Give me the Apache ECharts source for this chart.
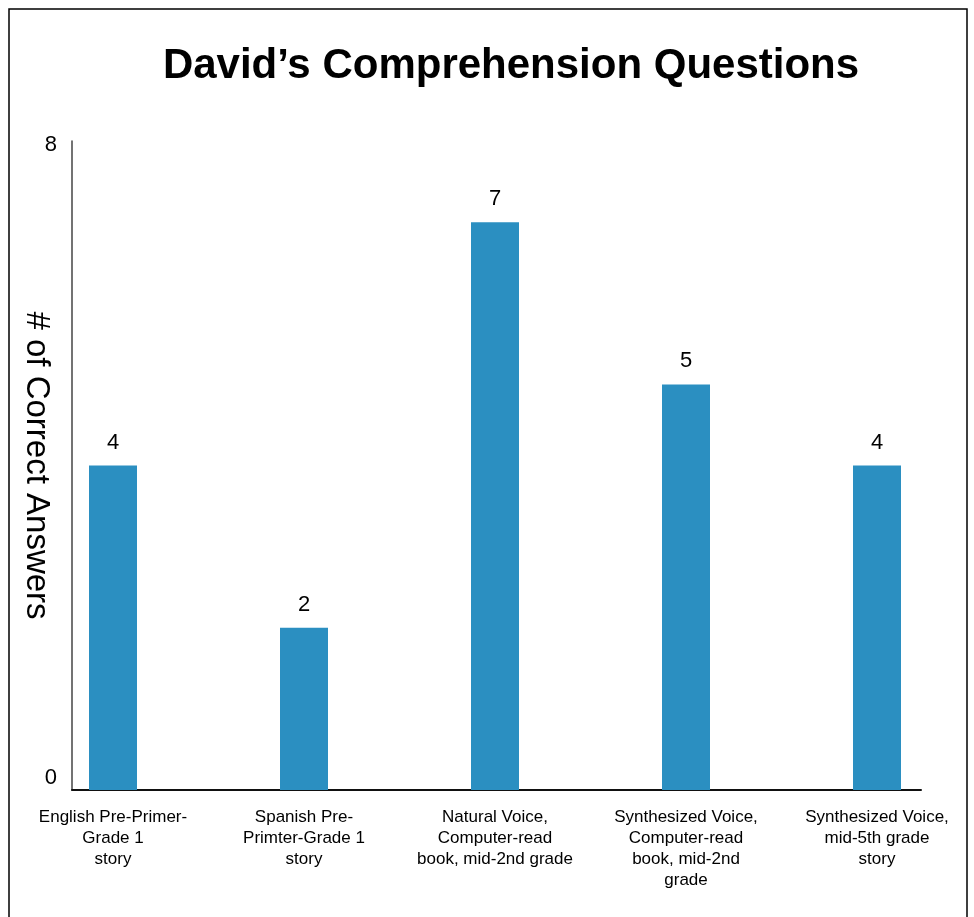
<!DOCTYPE html>
<html>
<head>
<meta charset="utf-8">
<title>David's Comprehension Questions</title>
<script src="https://cdn.jsdelivr.net/npm/echarts@6/dist/echarts.min.js"></script>
<style>
  html, body { margin: 0; padding: 0; background: #fff; }
  #chart { width: 974px; height: 917px; }
</style>
</head>
<body>
<div id="chart"></div>
<script>
// Reading conditions and correct answers per condition
const categories = [
  'English Pre-Primer-\nGrade 1\nstory',
  'Spanish Pre-\nPrimter-Grade 1\nstory',
  'Natural Voice,\nComputer-read\nbook, mid-2nd grade',
  'Synthesized Voice,\nComputer-read\nbook, mid-2nd\ngrade',
  'Synthesized Voice,\nmid-5th grade\nstory'
];
const correctAnswers = [4, 2, 7, 5, 4];
const yMin = 0;
const yMax = 8;

const FONT = '"Liberation Sans", Arial, Helvetica, sans-serif';
const chart = echarts.init(document.getElementById('chart'), null, { renderer: 'canvas' });

chart.setOption({
  backgroundColor: '#ffffff',
  animation: false,
  title: {
    text: 'David\u2019s Comprehension Questions',
    left: 506,
    textAlign: 'center',
    top: 40,
    textStyle: { fontFamily: FONT, fontSize: 42, fontWeight: 'bold', color: '#000' }
  },
  graphic: [{
    type: 'rect',
    shape: { x: 9, y: 9, width: 958, height: 1000 },
    style: { fill: 'none', stroke: '#000', lineWidth: 1.5 },
    silent: true
  }],
  grid: [
    // bars and category labels
    { left: 17.5, width: 955, top: 141, bottom: 127, outerBoundsMode: 'none' },
    // visible axes frame
    { left: 72, right: 53, top: 141, bottom: 127, outerBoundsMode: 'none' }
  ],
  xAxis: [{
    type: 'category',
    gridIndex: 0,
    data: categories,
    axisLine: { show: false },
    axisTick: { show: false },
    axisLabel: {
      interval: 0,
      margin: 17,
      fontFamily: FONT,
      fontSize: 17,
      lineHeight: 21,
      color: '#000',
      align: 'center'
    }
  }, {
    type: 'value',
    gridIndex: 1,
    min: 0,
    max: 1,
    axisLine: { show: true, lineStyle: { color: '#111', width: 2 } },
    axisTick: { show: false },
    axisLabel: { show: false },
    splitLine: { show: false }
  }],
  yAxis: [{
    type: 'value',
    gridIndex: 0,
    min: yMin,
    max: yMax,
    show: false
  }, {
    type: 'value',
    gridIndex: 1,
    min: yMin,
    max: yMax,
    interval: 8,
    name: '# of Correct Answers',
    nameLocation: 'middle',
    nameRotate: -90,
    nameGap: 19,
    nameMoveOverlap: false,
    nameTextStyle: { fontFamily: FONT, fontSize: 33, color: '#000' },
    axisLine: { show: true, lineStyle: { color: '#444', width: 1.5 } },
    axisTick: { show: false },
    splitLine: { show: false },
    axisLabel: {
      margin: 15,
      fontFamily: FONT,
      fontSize: 22,
      color: '#000',
      formatter: function (v) {
        return v === yMin ? '{lo|' + v + '}' : '{hi|' + v + '}';
      },
      rich: {
        lo: { fontFamily: FONT, fontSize: 22, color: '#000', padding: [0, 0, 24, 0] },
        hi: { fontFamily: FONT, fontSize: 22, color: '#000', padding: [8, 0, 0, 0] }
      }
    }
  }],
  series: [{
    type: 'bar',
    xAxisIndex: 0,
    yAxisIndex: 0,
    data: correctAnswers,
    barWidth: 48,
    itemStyle: { color: '#2B8FC1' },
    label: {
      show: true,
      position: 'top',
      distance: 12,
      fontFamily: FONT,
      fontSize: 22,
      color: '#000'
    }
  }]
});
</script>
</body>
</html>
